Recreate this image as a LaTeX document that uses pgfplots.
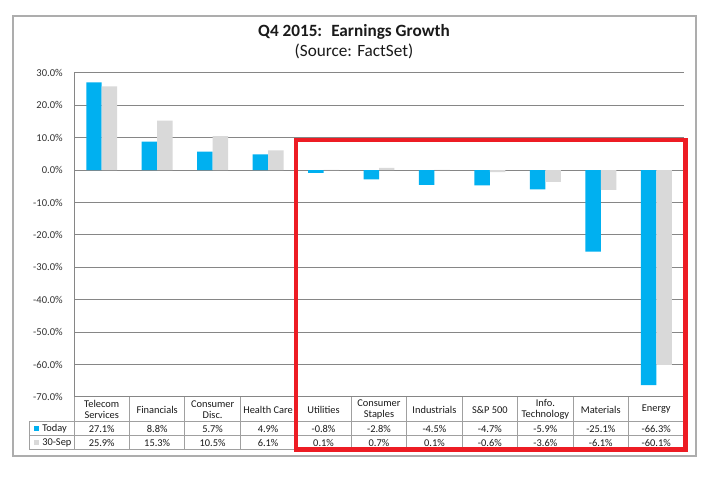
\documentclass[border=0pt]{standalone}
\usepackage{pgfplots}
\pgfplotsset{compat=1.18}
\usepackage{fontspec}
\setmainfont{Carlito}

\definecolor{barblue}{HTML}{00B0F0}
\definecolor{bargray}{HTML}{D9D9D9}
\definecolor{gridgray}{HTML}{868686}
\definecolor{tablegray}{HTML}{A0A0A0}
\definecolor{boxred}{HTML}{ED1C24}
\definecolor{txt}{HTML}{1A1A1A}

\begin{document}
\begin{tikzpicture}
% page and frame, in pixels of the 720x488 picture (y downwards)
\begin{scope}[x=0.75pt,y=-0.75pt,yshift=366pt]
  \fill[white] (0,0) rectangle (720,488);
  \draw[black!32, line width=0.9pt] (13,16) rectangle (696,456);
  \node[font=\fontsize{12.9}{15}\selectfont\bfseries, text=txt] at (354,32) {Q4 2015: \ Earnings Growth};
  \node[font=\fontsize{12.9}{15}\selectfont, text=txt] at (354,51.5) {(Source: FactSet)};
\end{scope}

\begin{axis}[
    at={(55.5pt,68.25pt)}, anchor=south west,
    scale only axis,
    width=457.5pt, height=243pt,
    ybar=0pt, bar width=11.6pt,
    xmin=-0.5, xmax=10.5,
    ymin=-70, ymax=30,
    ytick={-70,-60,...,30},
    xtick=\empty,
    axis y line*=left, axis x line*=bottom,
    x axis line style={draw=none},
    y axis line style={draw=gridgray, line width=0.75pt},
    ytick style={draw=none},
    ymajorgrids,
    major grid style={draw=gridgray, line width=0.75pt},
    /pgf/number format/assume math mode=true,
    yticklabel={\pgfmathprintnumber[fixed,fixed zerofill,precision=1]{\tick}\%},
    yticklabel style={font=\fontsize{7.9}{9}\selectfont, text=black!80, xshift=-5pt},
    clip=false,
]
% Today
\addplot[fill=barblue, draw=none] coordinates {
    (0,27.1) (1,8.8) (2,5.7) (3,4.9) (4,-0.8) (5,-2.8)
    (6,-4.5) (7,-4.7) (8,-5.9) (9,-25.1) (10,-66.3)
};
% 30-Sep
\addplot[fill=bargray, draw=none] coordinates {
    (0,25.9) (1,15.3) (2,10.5) (3,6.1) (4,0.1) (5,0.7)
    (6,0.1) (7,-0.6) (8,-3.6) (9,-6.1) (10,-60.1)
};
\end{axis}

% data table under the plot
\begin{scope}[x=0.75pt,y=-0.75pt,yshift=366pt, font=\fontsize{7.8}{8.6}\selectfont, text=txt]
  \foreach \k in {0,...,11}
    \draw[tablegray, line width=0.75pt] ({74+\k*55.45},397) -- ({74+\k*55.45},450);
  \draw[tablegray, line width=0.75pt] (29,422) -- (684,422);
  \draw[tablegray, line width=0.75pt] (29,436) -- (684,436);
  \draw[tablegray, line width=0.75pt] (29,450) -- (684,450);
  \draw[tablegray, line width=0.75pt] (29,422) -- (29,450);
  \draw[gridgray, line width=0.75pt] (74,397) -- (684,397);

  \foreach \lab [count=\i from 0] in {{Telecom\\Services},Financials,{Consumer\\Disc.},Health Care,Utilities,{Consumer\\Staples},Industrials,S\&P 500,{Info.\\Technology},Materials,Energy}
    \node[align=center, inner sep=0pt] at ({74+(\i+0.5)*55.45},409.5) {\lab};

  \foreach \v [count=\i from 0] in {27.1,8.8,5.7,4.9,-0.8,-2.8,-4.5,-4.7,-5.9,-25.1,-66.3}
    \node[inner sep=0pt] at ({74+(\i+0.5)*55.45},429) {\v\%};
  \foreach \v [count=\i from 0] in {25.9,15.3,10.5,6.1,0.1,0.7,0.1,-0.6,-3.6,-6.1,-60.1}
    \node[inner sep=0pt] at ({74+(\i+0.5)*55.45},443) {\v\%};

  \fill[barblue] (33.5,426.5) rectangle (38.5,431.5);
  \node[anchor=west, inner sep=0pt] at (42,429) {Today};
  \fill[bargray] (33.5,440.5) rectangle (38.5,445.5);
  \node[anchor=west, inner sep=0pt] at (42,443) {30-Sep};

  % highlight box
  \draw[boxred, line width=3.4pt] (296,140) rectangle (685.5,449.5);
\end{scope}
\end{tikzpicture}
\end{document}
